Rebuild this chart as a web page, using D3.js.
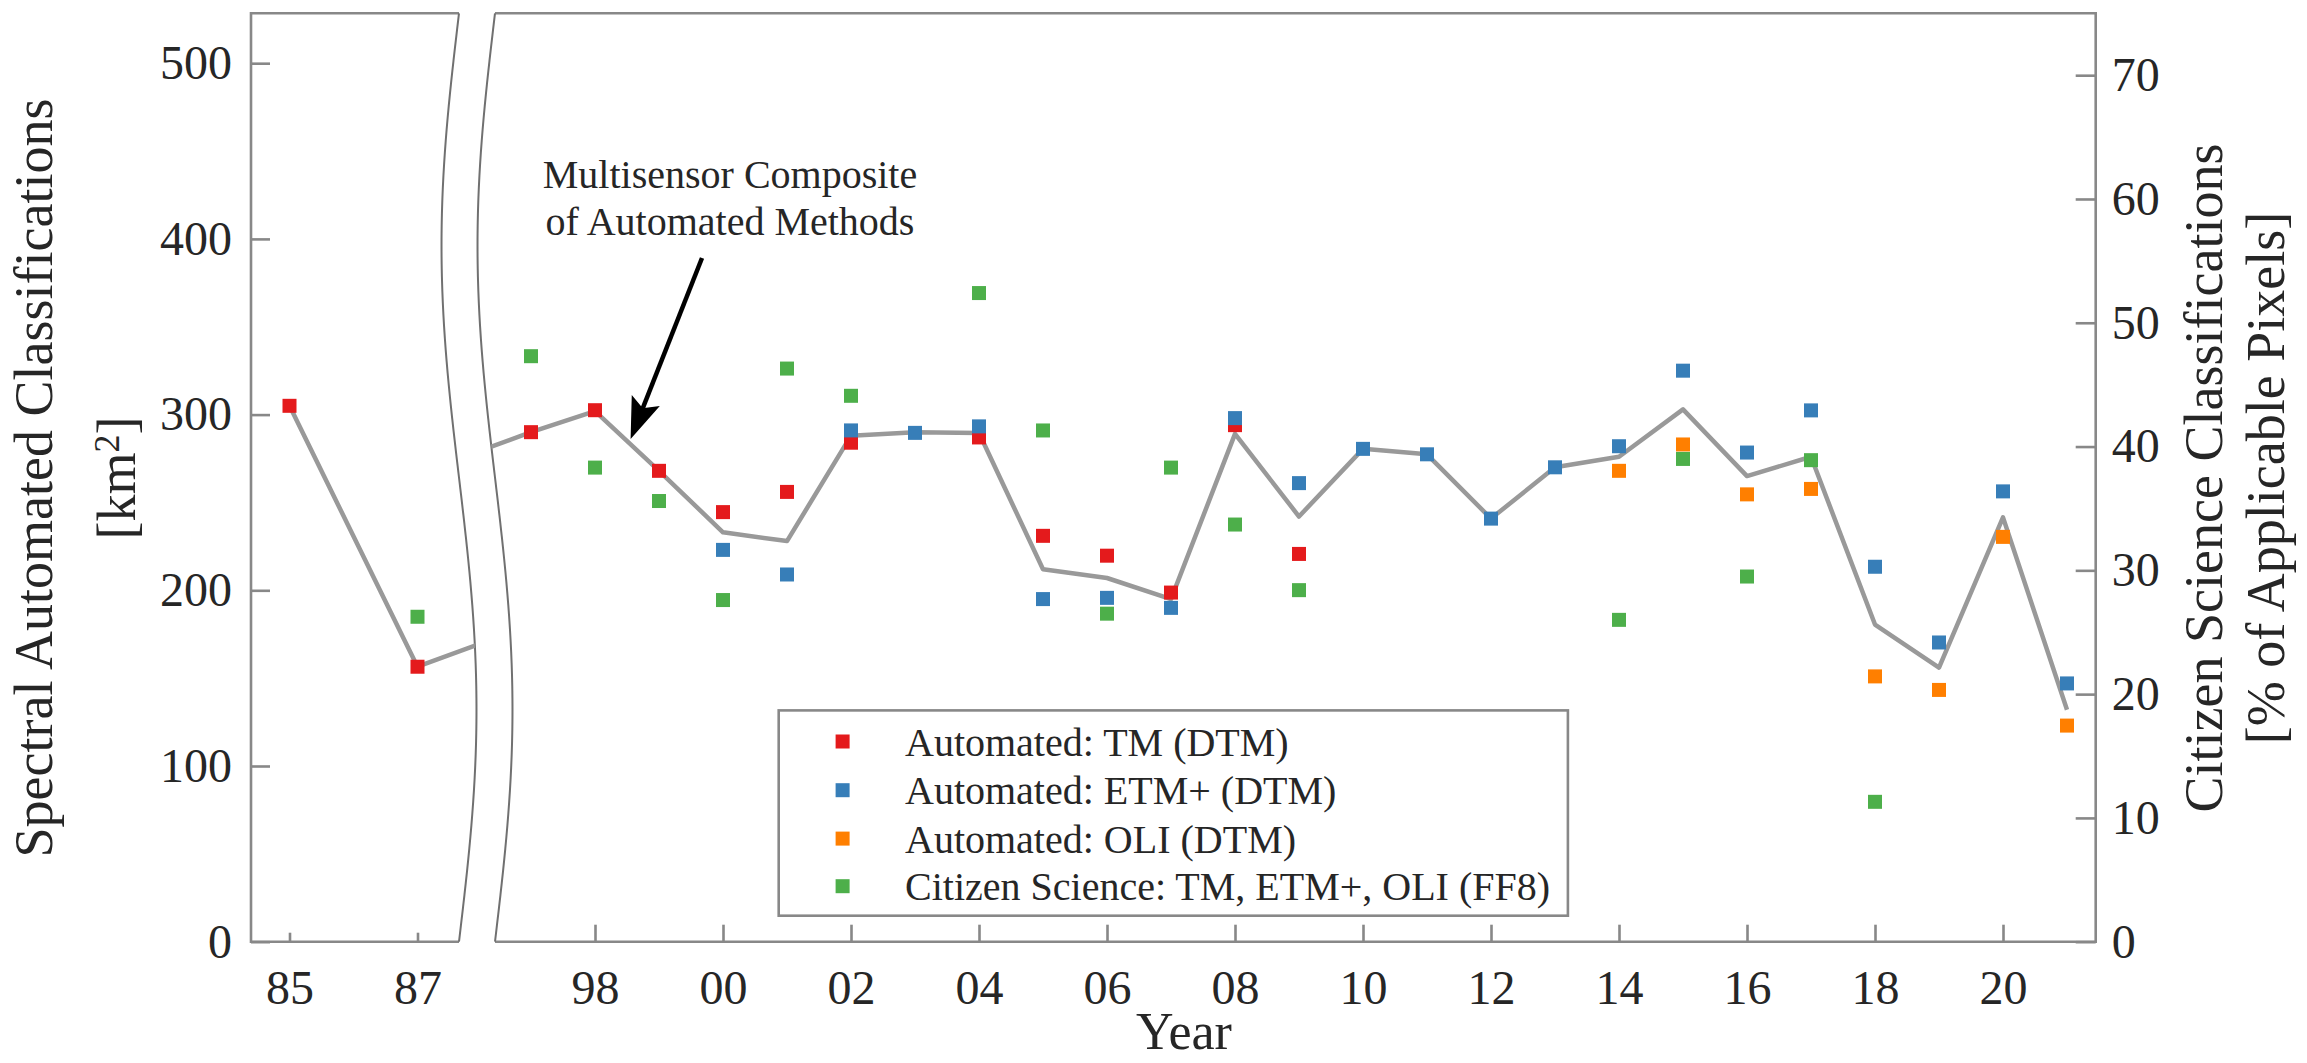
<!DOCTYPE html>
<html><head><meta charset="utf-8">
<script src="https://cdn.jsdelivr.net/npm/d3@7"></script>
<style>
html,body{margin:0;padding:0;background:#fff;}
svg{display:block;}
text{font-family:"Liberation Serif","Times New Roman",serif;}
</style></head><body>
<svg id="chart" width="2307" height="1063"></svg>
<script>
// ---------------- DATA ----------------
const tmYears   = [1985,1987,1997,1998,1999,2000,2001,2002,2004,2005,2006,2007,2008,2009];
const tmValues  = [305,156.5,290,302.5,268,244.5,256,284,287,231,219.7,198.7,294,220.7];
const etmYears  = [2000,2001,2002,2003,2004,2005,2006,2007,2008,2009,2010,2011,2012,2013,2014,2015,2016,2017,2018,2019,2020,2021];
const etmValues = [223,209,291,289.6,293.3,195,195.7,190,298,261,280.5,277.4,240.8,270,282,325,278.4,302.4,213.4,170.3,256.3,147];
const oliYears  = [2014,2015,2016,2017,2018,2019,2020,2021];
const oliValues = [268,283,254.6,257.7,151,143.3,230.4,123];
const csYears   = [1987,1997,1998,1999,2000,2001,2002,2004,2005,2006,2007,2008,2009,2014,2015,2016,2017,2018];
const csValues  = [26.25,47.3,38.3,35.6,27.6,46.3,44.1,52.4,41.3,26.5,38.3,33.7,28.4,26.0,39.0,29.5,38.9,11.3];
const compYears = [1985,1987,1997,1998,1999,2000,2001,2002,2003,2004,2005,2006,2007,2008,2009,2010,2011,2012,2013,2014,2015,2016,2017,2018,2019,2020,2021];
const compValues= [305,156.5,290,302,268,233,228,288,290,289.5,212,207,195,289,242,280.5,277.4,240.8,270,276,303,265,276,180.5,156,241.5,132];
const leftTicks  = [0,100,200,300,400,500];
const rightTicks = [0,10,20,30,40,50,60,70];
const leftXTicks = [1985,1987];
const rightXTicks= [1998,2000,2002,2004,2006,2008,2010,2012,2014,2016,2018,2020];
const seriesNames = ["Automated: TM (DTM)","Automated: ETM+ (DTM)","Automated: OLI (DTM)","Citizen Science: TM, ETM+, OLI (FF8)"];
const seriesColors = ["#e41a1c","#377eb8","#ff7f00","#4daf4a"];

// ---------------- LAYOUT ----------------
const Y0=941.7, YT=13.3, AXL=251, AXR=2095.7;
const AX_COL="#888888", AX_W=2.6, TXT="#262626";
const svg=d3.select('#chart');
const yL=d3.scaleLinear().domain([0,528.4]).range([Y0,YT]);
const yR=d3.scaleLinear().domain([0,75]).range([Y0,YT]);
const xL=d3.scaleLinear().domain([1985,1987]).range([289.5,417.5]);
const xR=d3.scaleLinear().domain([1998,2020]).range([595,2003]);
const xOf = yr => yr < 1990 ? xL(yr) : xR(yr);
const fmtYr = d => String(d%100).padStart(2,'0');

// break curves
const amp=17.5, cx0=459, gap=36, N=80;
const curveX=(y,off)=>cx0+off-amp*Math.sin(2*Math.PI*(y-YT)/(Y0-YT));
const ys=d3.range(N+1).map(i=>YT+(Y0-YT)*i/N);
const c1=ys.map(y=>[curveX(y,0),y]);
const c2=ys.map(y=>[curveX(y,gap),y]);
const line=d3.line();

const defs=svg.append('defs');
defs.append('clipPath').attr('id','clipL').append('path')
  .attr('d',line([[AXL,YT],...c1,[AXL,Y0]])+'Z');
defs.append('clipPath').attr('id','clipR').append('path')
  .attr('d',line([...c2,[AXR,Y0],[AXR,YT]])+'Z');

// ---------------- AXES ----------------
function styleAxis(g,fs){
  g.select('.domain').remove();
  g.selectAll('.tick line').attr('stroke',AX_COL).attr('stroke-width',AX_W);
  g.selectAll('.tick text').attr('fill',TXT).style('font-size',fs+'px').style('font-family','"Liberation Serif",serif');
}
styleAxis(svg.append('g').attr('transform',`translate(${AXL},0)`)
  .call(d3.axisLeft(yL).tickValues(leftTicks).tickSize(-19).tickPadding(19)),48);
styleAxis(svg.append('g').attr('transform',`translate(${AXR},0)`)
  .call(d3.axisRight(yR).tickValues(rightTicks).tickSize(-20).tickPadding(16)),48);
styleAxis(svg.append('g').attr('transform',`translate(0,${Y0})`)
  .call(d3.axisBottom(xL).tickValues(leftXTicks).tickSize(-9).tickPadding(28).tickFormat(fmtYr)),48);
styleAxis(svg.append('g').attr('transform',`translate(0,${Y0})`)
  .call(d3.axisBottom(xR).tickValues(rightXTicks).tickSize(-17).tickPadding(28).tickFormat(fmtYr)),48);

// frame
const frame=svg.append('g').attr('fill','none').attr('stroke',AX_COL).attr('stroke-width',AX_W);
frame.append('path').attr('d',line([c1[0],[AXL,YT],[AXL,Y0],c1[N]]));
frame.append('path').attr('d',line([c2[0],[AXR,YT],[AXR,Y0],c2[N]]));
const brk=svg.append('g').attr('fill','none').attr('stroke','#707070').attr('stroke-width',2);
brk.append('path').attr('d',d3.line().curve(d3.curveBasis)(c1));
brk.append('path').attr('d',d3.line().curve(d3.curveBasis)(c2));

// ---------------- COMPOSITE LINE ----------------
const comp=compYears.map((y,i)=>({y,v:compValues[i]}));
[['clipL',xL],['clipR',xR]].forEach(([cp,xs])=>{
  svg.append('g').attr('clip-path',`url(#${cp})`).append('path')
    .attr('d',d3.line().x(d=>xs(d.y)).y(d=>yL(d.v))(comp))
    .attr('fill','none').attr('stroke','#999999').attr('stroke-width',4.5).attr('stroke-linejoin','round');
});

// ---------------- MARKERS ----------------
const MS=14;
function markers(years,vals,scale,color){
  svg.append('g').selectAll('rect').data(years.map((y,i)=>({y,v:vals[i]}))).join('rect')
    .attr('x',d=>xOf(d.y)-MS/2).attr('y',d=>scale(d.v)-MS/2)
    .attr('width',MS).attr('height',MS).attr('fill',color);
}
markers(tmYears,tmValues,yL,seriesColors[0]);
markers(etmYears,etmValues,yL,seriesColors[1]);
markers(oliYears,oliValues,yL,seriesColors[2]);
markers(csYears,csValues,yR,seriesColors[3]);

// ---------------- LEGEND ----------------
const lg=svg.append('g');
lg.append('rect').attr('x',778.7).attr('y',710.4).attr('width',789.2).attr('height',205.3)
  .attr('fill','#fff').attr('stroke',AX_COL).attr('stroke-width',AX_W);
const rowY=[741.5,790.2,838.6,886.2];
seriesNames.forEach((n,i)=>{
  lg.append('rect').attr('x',842.6-MS/2).attr('y',rowY[i]-MS/2).attr('width',MS).attr('height',MS).attr('fill',seriesColors[i]);
  lg.append('text').attr('x',905).attr('y',rowY[i]).attr('dy','0.35em').attr('fill',TXT)
    .style('font-size','40px').text(n);
});

// ---------------- ANNOTATION ----------------
svg.append('text').attr('x',730).attr('y',188).attr('text-anchor','middle').attr('fill',TXT).style('font-size','40px').text('Multisensor Composite');
svg.append('text').attr('x',730).attr('y',235).attr('text-anchor','middle').attr('fill',TXT).style('font-size','40px').text('of Automated Methods');
const tail=[702,258], tip=[631.4,437];
(function(){
  const dx=tail[0]-tip[0], dy=tail[1]-tip[1], L=Math.hypot(dx,dy);
  const ux=dx/L, uy=dy/L, a=20*Math.PI/180, hl=40, notch=30;
  const rot=(t)=>[tip[0]+hl*(ux*Math.cos(t)-uy*Math.sin(t)), tip[1]+hl*(ux*Math.sin(t)+uy*Math.cos(t))];
  const p1=rot(a), p2=rot(-a), pn=[tip[0]+ux*notch, tip[1]+uy*notch];
  svg.append('line').attr('x1',tail[0]).attr('y1',tail[1]).attr('x2',pn[0]).attr('y2',pn[1])
    .attr('stroke','#000').attr('stroke-width',4.5);
  svg.append('path').attr('d',line([tip,p1,pn,p2])+'Z').attr('fill','#000').attr('stroke','#000')
    .attr('stroke-width',1.5).attr('stroke-linejoin','miter');
})();

// ---------------- TITLES ----------------
const cy=478;
svg.append('text').attr('transform',`translate(52,${cy}) rotate(-90)`).attr('text-anchor','middle')
  .attr('fill',TXT).style('font-size','54px').text('Spectral Automated Classifications');
const t2=svg.append('text').attr('transform',`translate(135,${cy}) rotate(-90)`).attr('text-anchor','middle')
  .attr('fill',TXT).style('font-size','54px');
t2.append('tspan').text('[km');
t2.append('tspan').attr('dy','-0.45em').style('font-size','36px').text('2');
t2.append('tspan').attr('dy','0.3em').text(']');
svg.append('text').attr('transform',`translate(2222,${cy}) rotate(-90)`).attr('text-anchor','middle')
  .attr('fill',TXT).style('font-size','54px').text('Citizen Science Classifications');
svg.append('text').attr('transform',`translate(2284,${cy}) rotate(-90)`).attr('text-anchor','middle')
  .attr('fill',TXT).style('font-size','54px').text('[% of Applicable Pixels]');
svg.append('text').attr('x',1184).attr('y',1049).attr('text-anchor','middle')
  .attr('fill',TXT).style('font-size','52px').text('Year');
</script></body></html>
